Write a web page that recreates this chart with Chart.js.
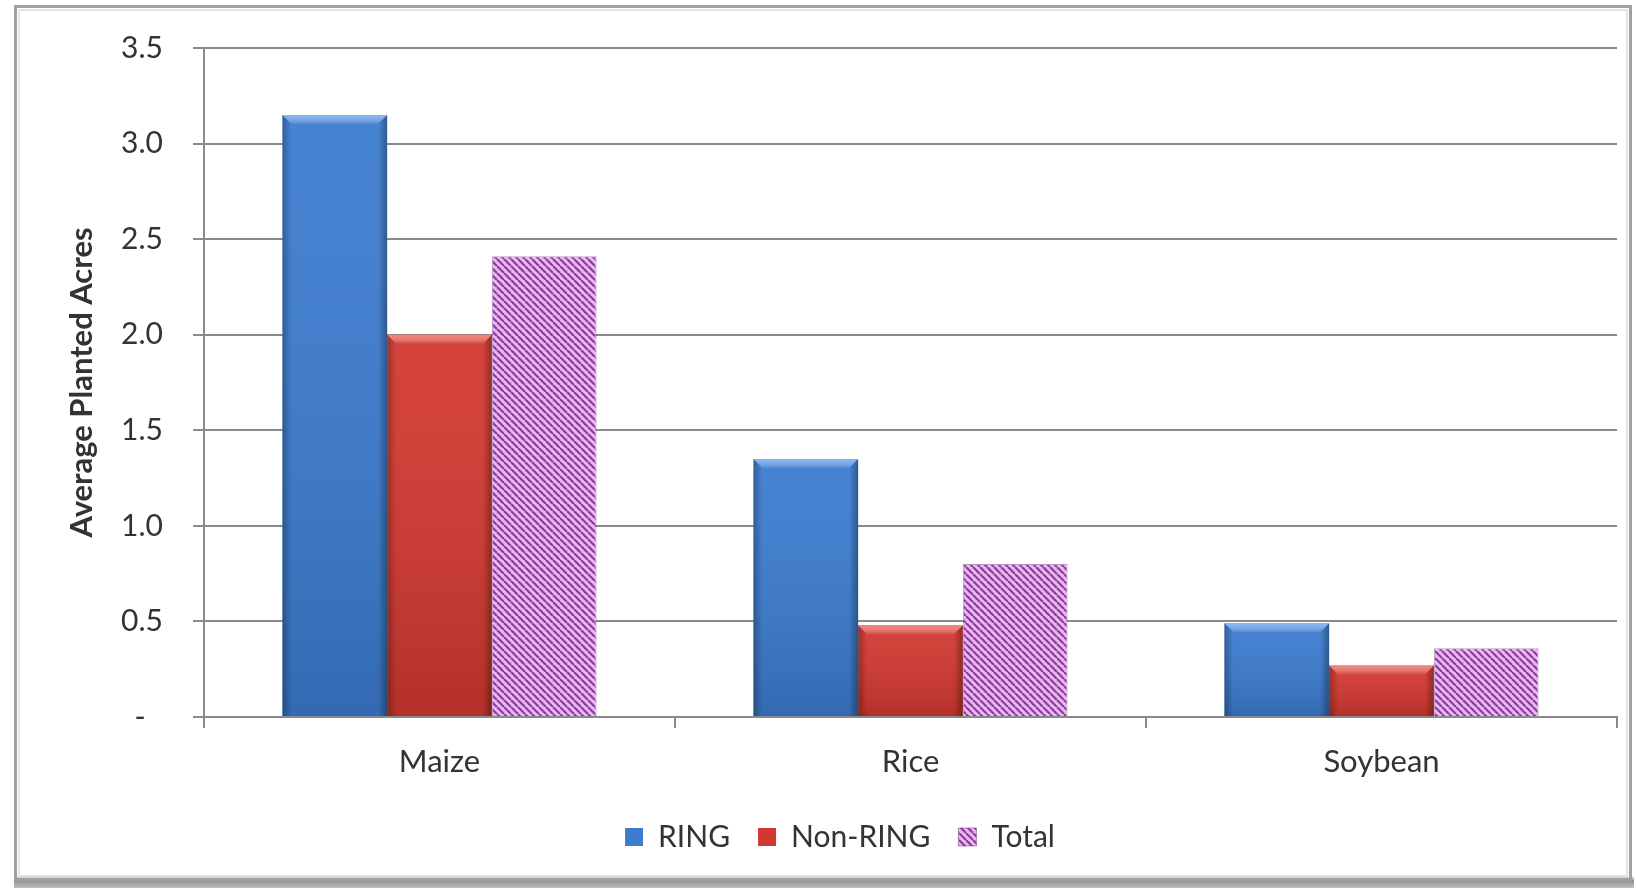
<!DOCTYPE html>
<html>
<head>
<meta charset="utf-8">
<title>Average Planted Acres</title>
<script src="https://cdn.jsdelivr.net/npm/chart.js@4.4.1/dist/chart.umd.min.js"></script>
<style>
  html, body { margin: 0; padding: 0; background: #ffffff; }
  #wrap { position: absolute; left: 0; top: 0; width: 1637px; height: 888px; }
</style>
</head>
<body>
<div id="wrap"><canvas id="chart" width="1637" height="888"></canvas></div>
<script>
// Crops on the category axis
const crops = ['Maize', 'Rice', 'Soybean'];

// Average planted acres per household group
const ringAcres    = [3.15, 1.35, 0.49];
const nonRingAcres = [2.00, 0.48, 0.27];
const totalAcres   = [2.41, 0.80, 0.36];

// Value-axis tick labels (accounting style: zero shown as a dash)
const yTickLabels = ['-', '0.5', '1.0', '1.5', '2.0', '2.5', '3.0', '3.5'];

const FONT = 'Lato, "Open Sans", "DejaVu Sans", sans-serif';

// Diagonal hatch used for the "Total" series
function makeHatch(bg, fg, size, width) {
  const c = document.createElement('canvas');
  c.width = size; c.height = size;
  const g = c.getContext('2d');
  g.fillStyle = bg;
  g.fillRect(0, 0, size, size);
  g.strokeStyle = fg;
  g.lineWidth = width;
  g.beginPath();
  for (let k = -1; k <= 1; k++) {
    g.moveTo(k * size, 0);
    g.lineTo(k * size + size, size);
  }
  g.stroke();
  return g.createPattern(c, 'repeat');
}
const hatch = makeHatch('#f0b4f4', '#86409a', 7, 2.2);

// Adds a bevelled, lightly shaded look to solid bars
const bevelPlugin = {
  id: 'bevel',
  afterDatasetDraw(chart, args) {
    const ds = chart.data.datasets[args.index];
    if (!ds.bevelLight) return;
    const ctx = chart.ctx;
    ctx.save();
    args.meta.data.forEach(bar => {
      const p = bar.getProps(['x', 'y', 'base', 'width'], true);
      const l = p.x - p.width / 2, r = p.x + p.width / 2;
      const t = Math.min(p.y, p.base), b = Math.max(p.y, p.base);
      const h = b - t;
      if (h <= 0) return;
      const bv = Math.min(9, h / 3);
      // overall top-to-bottom darkening
      const vg = ctx.createLinearGradient(0, t, 0, b);
      vg.addColorStop(0, 'rgba(255,255,255,0.06)');
      vg.addColorStop(1, 'rgba(0,0,0,0.14)');
      ctx.fillStyle = vg;
      ctx.fillRect(l, t, r - l, h);
      // left edge
      let g = ctx.createLinearGradient(l, 0, l + bv, 0);
      g.addColorStop(0, 'rgba(0,0,0,0.28)');
      g.addColorStop(1, 'rgba(0,0,0,0)');
      ctx.fillStyle = g;
      ctx.beginPath();
      ctx.moveTo(l, t); ctx.lineTo(l + bv, t + bv); ctx.lineTo(l + bv, b); ctx.lineTo(l, b); ctx.closePath();
      ctx.fill();
      // right edge
      g = ctx.createLinearGradient(r, 0, r - bv, 0);
      g.addColorStop(0, 'rgba(0,0,0,0.32)');
      g.addColorStop(1, 'rgba(0,0,0,0)');
      ctx.fillStyle = g;
      ctx.beginPath();
      ctx.moveTo(r, t); ctx.lineTo(r - bv, t + bv); ctx.lineTo(r - bv, b); ctx.lineTo(r, b); ctx.closePath();
      ctx.fill();
      // top bevel highlight
      g = ctx.createLinearGradient(0, t, 0, t + bv);
      g.addColorStop(0, ds.bevelLight);
      g.addColorStop(1, 'rgba(255,255,255,0.05)');
      ctx.fillStyle = g;
      ctx.beginPath();
      ctx.moveTo(l, t); ctx.lineTo(r, t); ctx.lineTo(r - bv, t + bv); ctx.lineTo(l + bv, t + bv); ctx.closePath();
      ctx.fill();
    });
    ctx.restore();
  }
};

// Grey frame with a soft shadow around the whole chart
const framePlugin = {
  id: 'frame',
  beforeDraw(chart) {
    const ctx = chart.ctx;
    ctx.save();
    ctx.fillStyle = '#ffffff';
    ctx.fillRect(0, 0, chart.width, chart.height);
    const sb = ctx.createLinearGradient(0, 876, 0, 888);
    sb.addColorStop(0, 'rgba(120,120,120,0.0)');
    sb.addColorStop(0.35, 'rgba(120,120,120,0.85)');
    sb.addColorStop(1, 'rgba(150,150,150,0.6)');
    ctx.fillStyle = sb;
    ctx.fillRect(14, 876, 1620, 12);
    ctx.strokeStyle = '#a0a0a0';
    ctx.lineWidth = 3;
    ctx.strokeRect(15.5, 6.5, 1615, 873);
    ctx.strokeStyle = 'rgba(210,210,210,0.6)';
    ctx.lineWidth = 2;
    ctx.strokeRect(19, 10, 1608, 866);
    ctx.restore();
  }
};

new Chart(document.getElementById('chart'), {
  type: 'bar',
  data: {
    labels: crops,
    datasets: [
      { label: 'RING', data: ringAcres, backgroundColor: '#3b7bd0', bevelLight: 'rgba(150,200,255,0.75)' },
      { label: 'Non-RING', data: nonRingAcres, backgroundColor: '#d2372f', bevelLight: 'rgba(255,150,140,0.75)' },
      { label: 'Total', data: totalAcres, backgroundColor: hatch, borderColor: 'rgba(120,50,140,0.5)', borderWidth: 1 }
    ]
  },
  options: {
    responsive: false,
    animation: false,
    devicePixelRatio: 1,
    datasets: { bar: { categoryPercentage: 0.667, barPercentage: 1.0 } },
    layout: { padding: { left: 63, right: 20, top: 47, bottom: 26 } },
    scales: {
      x: {
        grid: { offset: true, drawOnChartArea: false, drawTicks: true, tickLength: 11, color: '#8a8a8a', lineWidth: 2 },
        border: { display: true, color: '#8a8a8a', width: 2 },
        ticks: { color: '#333333', padding: 15, font: { family: FONT, size: 31 } },
        afterFit(s) { s.height = 77; }
      },
      y: {
        min: 0, max: 3.5,
        ticks: {
          stepSize: 0.5,
          padding: 30,
          color: '#333333',
          font: { family: FONT, size: 30 },
          // zero is right-padded like an accounting format
          callback: (v, i) => (i === 0 ? yTickLabels[i] + '\u2007' : yTickLabels[i])
        },
        grid: { color: '#8a8a8a', lineWidth: 2, tickLength: 11, drawTicks: true },
        border: { display: true, color: '#8a8a8a', width: 2 },
        title: {
          display: true,
          text: 'Average Planted Acres',
          color: '#333333',
          font: { family: FONT, size: 31, weight: 'bold' },
          padding: { top: 0, bottom: 0 }
        },
        afterFit(s) { s.width = 141; }
      }
    },
    plugins: {
      legend: {
        position: 'bottom',
        labels: {
          boxWidth: 18, boxHeight: 18, padding: 28,
          color: '#333333',
          font: { family: FONT, size: 30 }
        }
      },
      tooltip: { enabled: false }
    }
  },
  plugins: [framePlugin, bevelPlugin]
});
</script>
</body>
</html>
